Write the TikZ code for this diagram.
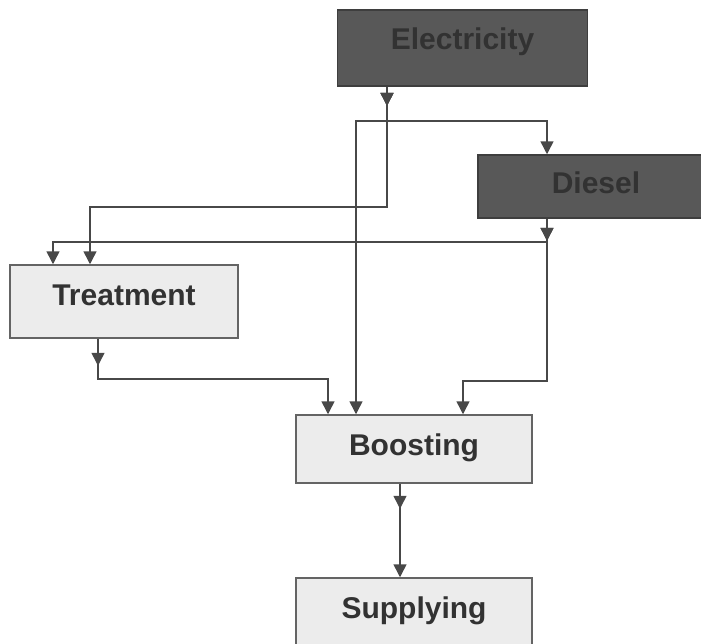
\documentclass[tikz,border=0pt]{standalone}
\usepackage{fontspec}
\setmainfont{Liberation Sans}
\usetikzlibrary{arrows.meta,decorations.markings}

\definecolor{darkfill}{RGB}{88,88,88}
\definecolor{darkline}{RGB}{62,62,62}
\definecolor{labeltext}{RGB}{50,50,50}
\definecolor{lightfill}{RGB}{236,236,236}
\definecolor{boxline}{RGB}{100,100,100}
\definecolor{wire}{RGB}{72,72,72}

\begin{document}
\begin{tikzpicture}[x=1pt,y=-1pt,
  box/.style={draw=boxline, line width=1.5pt, inner sep=0pt, anchor=center,
    font=\fontsize{30}{36}\selectfont\bfseries, text=labeltext, text height=20pt},
  source/.style={box, fill=darkfill, draw=darkline},
  process/.style={box, fill=lightfill},
  conn/.style={draw=wire, color=wire, line width=1.5pt, -{Triangle[width=13pt,length=13pt]}},
  outmark/.style={postaction={decorate},
    decoration={markings, mark=at position #1 with {\arrow{Triangle[width=13pt,length=13pt]}}}},
]
\useasboundingbox (0,0) rectangle (701,643);

% energy sources
\node[source, minimum width=250pt, minimum height=76pt, text depth=16.6pt] (elec) at (462.5,48) {Electricity};
\node[source, minimum width=236pt, minimum height=63pt, text depth=5.6pt] (diesel) at (596,186.5) {Diesel};

% process stages
\node[process, minimum width=228pt, minimum height=73pt, text depth=12.6pt] (treat) at (124,301.5) {Treatment};
\node[process, minimum width=236pt, minimum height=68pt, text depth=7.6pt] (boost) at (414,449) {Boosting};
\node[process, minimum width=236pt, minimum height=67pt, text depth=5.6pt] (supply) at (414,611.5) {Supplying};

% connector columns
\coordinate (cEo) at (387,0);
\coordinate (cBe) at (356,0);
\coordinate (cDi) at (547,0);
\coordinate (cTe) at (90,0);
\coordinate (cTd) at (53,0);
\coordinate (cBd) at (463,0);
\coordinate (cTo) at (98,0);
\coordinate (cBt) at (328,0);
\coordinate (cBo) at (400,0);
% connector rails
\coordinate (rEa) at (0,121);
\coordinate (rEb) at (0,207);
\coordinate (rDa) at (0,242);
\coordinate (rDb) at (0,381);
\coordinate (rT)  at (0,379);

% electricity feeds
\draw[conn, outmark=19pt] (elec.south -| cEo) |- (rEa -| cDi) -- (diesel.north -| cDi);
\draw[conn, outmark=19pt] (elec.south -| cEo) |- (rEa -| cBe) -- (boost.north -| cBe);
\draw[conn, outmark=19pt] (elec.south -| cEo) |- (rEb -| cTe) -- (treat.north -| cTe);
% diesel feeds
\draw[conn, outmark=22pt] (diesel.south -| cDi) |- (rDa -| cTd) -- (treat.north -| cTd);
\draw[conn, outmark=22pt] (diesel.south -| cDi) |- (rDb -| cBd) -- (boost.north -| cBd);
% process chain
\draw[conn, outmark=27pt] (treat.south -| cTo) |- (rT -| cBt) -- (boost.north -| cBt);
\draw[conn, outmark=25pt] (boost.south -| cBo) -- (supply.north -| cBo);
\end{tikzpicture}
\end{document}
